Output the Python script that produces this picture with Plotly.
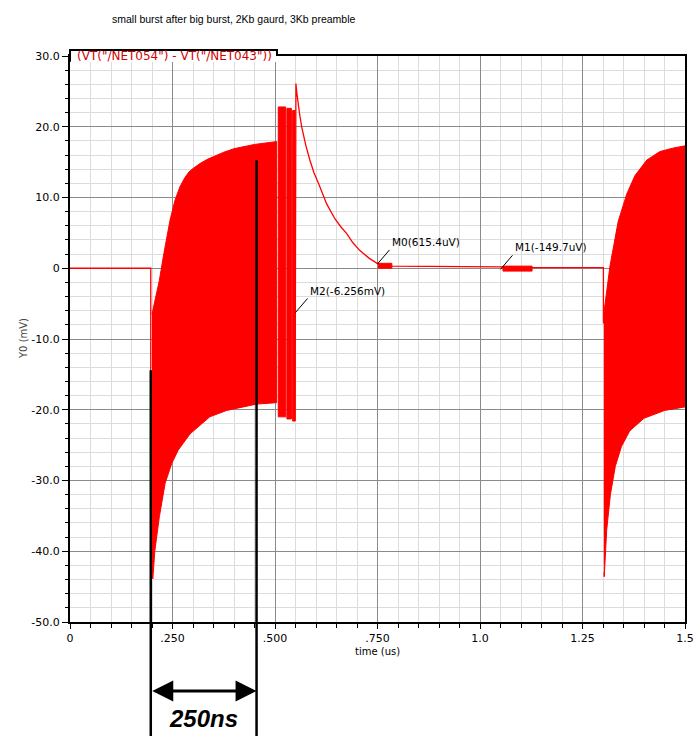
import plotly.graph_objects as go

# ---------------- data (time in us, voltage in mV) ----------------
title_text = "small burst after big burst, 2Kb gaurd, 3Kb preamble"
trace_name = '(VT("/NET054") - VT("/NET043"))'

# thin line parts of the waveform
line_t = [0.0, 0.197, 0.197, None, 0.549, 0.551, 0.553, 0.556, 0.560, 0.565, 0.575, 0.585, 0.595, 0.606, 0.616, 0.626, 0.646, 0.660, 0.675, 0.690, 0.707, 0.730, 0.752, 0.785, 1.05, 1.13, 1.301, 1.301]
line_v = [0.0, 0.0, -14.6, None, -21.6, 26.1, 24.9, 23.4, 21.8, 20.0, 17.4, 15.3, 13.5, 12.0, 10.5, 9.1, 7.0, 5.9, 4.9, 3.6, 2.5, 1.4, 0.6, 0.3, 0.2, 0.1, 0.1, -7.8]

# burst 1 envelope
b1_up_t = [0.200, 0.210, 0.218, 0.229, 0.244, 0.256, 0.268, 0.280, 0.290, 0.300, 0.317, 0.335, 0.350, 0.375, 0.400, 0.450, 0.504]
b1_up_v = [-6.5, -3.7, -1.7, 2.1, 6.8, 9.6, 11.5, 12.8, 13.6, 14.1, 14.8, 15.4, 15.8, 16.4, 16.9, 17.5, 17.9]
b1_lo_t = [0.200, 0.202, 0.207, 0.218, 0.232, 0.248, 0.264, 0.293, 0.341, 0.382, 0.455, 0.504]
b1_lo_v = [-43.0, -43.9, -39.9, -35.1, -30.4, -27.6, -25.7, -23.4, -21.0, -20.1, -19.2, -19.0]

# spike packets after burst 1
spike_start = [0.508, 0.529, 0.543]
spike_end = [0.526, 0.540, 0.549]
spike_top = [22.8, 22.6, 22.3]
spike_bottom = [-21.0, -21.3, -21.6]

# small ripples
rip_start = [0.752, 1.056]
rip_end = [0.785, 1.127]
rip_top = [0.7, 0.3]
rip_bottom = [0.0, -0.4]

# burst 2 envelope
b2_up_t = [1.302, 1.317, 1.337, 1.358, 1.378, 1.407, 1.439, 1.472, 1.500]
b2_up_v = [-6.4, 0.3, 6.6, 10.5, 13.1, 15.3, 16.5, 17.0, 17.3]
b2_lo_t = [1.302, 1.303, 1.309, 1.318, 1.330, 1.345, 1.365, 1.400, 1.450, 1.500]
b2_lo_v = [-43.0, -43.6, -37.0, -32.0, -28.0, -25.2, -23.0, -21.2, -20.1, -19.6]

# markers
marker_t = [0.75, 1.05, 0.55]
marker_v = [0.6154, -0.1497, -6.256]
marker_text = ["M0(615.4uV)", "M1(-149.7uV)", "M2(-6.256mV)"]

# axis ticks
x_tickvals = [0, 0.25, 0.5, 0.75, 1.0, 1.25, 1.5]
x_ticktext = ["0", ".250", ".500", ".750", "1.0", "1.25", "1.5"]
y_tickvals = [-50, -40, -30, -20, -10, 0, 10, 20, 30]
y_ticktext = ["-50.0", "-40.0", "-30.0", "-20.0", "-10.0", "0", "10.0", "20.0", "30.0"]

# 250ns span annotation
span_t = [0.197, 0.455]
span_label = "250ns"

RED = "#ff0000"
fig = go.Figure()

def add_fill(xs, ys):
    fig.add_trace(go.Scatter(x=xs, y=ys, mode="lines", fill="toself", fillcolor=RED,
                             line=dict(color=RED, width=1), hoverinfo="skip", showlegend=False))

add_fill(b1_up_t + b1_lo_t[::-1], b1_up_v + b1_lo_v[::-1])
add_fill(b2_up_t + b2_lo_t[::-1], b2_up_v + b2_lo_v[::-1])
for s, e, tp, bt in zip(spike_start, spike_end, spike_top, spike_bottom):
    add_fill([s, e, e, s, s], [tp, tp, bt, bt, tp])
for s, e, tp, bt in zip(rip_start, rip_end, rip_top, rip_bottom):
    add_fill([s, e, e, s, s], [tp, tp, bt, bt, tp])

fig.add_trace(go.Scatter(x=line_t, y=line_v, mode="lines", line=dict(color=RED, width=1.3),
                         hoverinfo="skip", showlegend=False))

# marker vertical lines
for t in marker_t:
    fig.add_vline(x=t, line=dict(color="#8a8a8a", width=1), layer="below")

# marker labels
for t, v, txt in zip(marker_t, marker_v, marker_text):
    fig.add_annotation(x=t, y=v, xref="x", yref="y", text=txt, showarrow=True,
                       arrowhead=0, arrowwidth=1, arrowcolor="black", ax=12, ay=-14,
                       xanchor="left", yanchor="bottom",
                       font=dict(family="DejaVu Sans", size=10.5, color="black"))

# span lines (extend below the plot)
span_tops = [0.445, 0.816]
for t, top in zip(span_t, span_tops):
    fig.add_shape(type="line", xref="x", yref="paper", x0=t, x1=t, y0=top, y1=-0.205,
                  line=dict(color="black", width=2.5))

fig.add_annotation(x=span_t[1], y=-0.122, xref="x", yref="paper", ax=span_t[0], ay=0,
                   axref="x", ayref="pixel", text="", showarrow=True, arrowside="end+start",
                   arrowhead=2, arrowsize=1.4, arrowwidth=3, arrowcolor="black",
                   standoff=0, startstandoff=0)
fig.add_annotation(x=sum(span_t) / 2, y=-0.17, xref="x", yref="paper", showarrow=False,
                   text="<b><i>" + span_label + "</i></b>", xanchor="center", yanchor="middle",
                   font=dict(family="Liberation Sans", size=24, color="black"))

# title
fig.add_annotation(x=0.065, y=1.0654, xref="paper", yref="paper", text=title_text, showarrow=False,
                   xanchor="left", yanchor="middle",
                   font=dict(family="Liberation Sans", size=10.5, color="black"))

# trace name tab (white tab covering the top border, outlined on top/left/right)
fig.add_shape(type="rect", xref="paper", yref="paper", x0=0, x1=0.3366, y0=0.9894, y1=1.0106,
              fillcolor="white", line=dict(width=0), layer="above")
fig.add_shape(type="path", xref="paper", yref="paper",
              path="M 0,0.99 L 0,1.0106 L 0.3366,1.0106 L 0.3366,1",
              line=dict(color="black", width=2), layer="above")
fig.add_annotation(x=0.008, y=1.0, xref="paper", yref="paper", text=trace_name, showarrow=False,
                   xanchor="left", yanchor="middle",
                   font=dict(family="DejaVu Sans", size=12, color="#d40000"))

# axis titles
fig.add_annotation(x=0.5, y=-0.053, xref="paper", yref="paper", text="time (us)", showarrow=False,
                   xanchor="center", yanchor="middle",
                   font=dict(family="DejaVu Sans", size=10, color="black"))
fig.add_annotation(x=-0.0764, y=0.5, xref="paper", yref="paper", text="Y0 (mV)", showarrow=False,
                   textangle=-90, xanchor="center", yanchor="middle",
                   font=dict(family="DejaVu Sans", size=10, color="#444444"))

axis_common = dict(showline=True, mirror=True, linecolor="black", linewidth=2,
                   showgrid=True, gridcolor="#8a8a8a", gridwidth=1, zeroline=False,
                   ticks="outside", tickcolor="black", automargin=False,
                   tickfont=dict(family="DejaVu Sans", size=11, color="black"))

fig.update_xaxes(range=[0, 1.5], tickmode="array", tickvals=x_tickvals, ticktext=x_ticktext,
                 ticklen=5,
                 minor=dict(tickmode="linear", tick0=0, dtick=0.05, showgrid=True,
                            gridcolor="#dcdcdc", gridwidth=1, ticks="outside", ticklen=4,
                            tickcolor="black"),
                 **axis_common)
fig.update_yaxes(range=[-50, 30], tickmode="array", tickvals=y_tickvals, ticktext=y_ticktext,
                 ticklen=6,
                 minor=dict(tickmode="linear", tick0=0, dtick=2, showgrid=True,
                            gridcolor="#dcdcdc", gridwidth=1, ticks="outside", ticklen=3,
                            tickcolor="black"),
                 **axis_common)

fig.update_layout(width=698, height=736, margin=dict(l=70, r=13, t=56, b=114),
                  plot_bgcolor="white", paper_bgcolor="white", showlegend=False)

fig.write_html("out.html", config={"displayModeBar": False},
               post_script="document.body.style.margin='0px';")
